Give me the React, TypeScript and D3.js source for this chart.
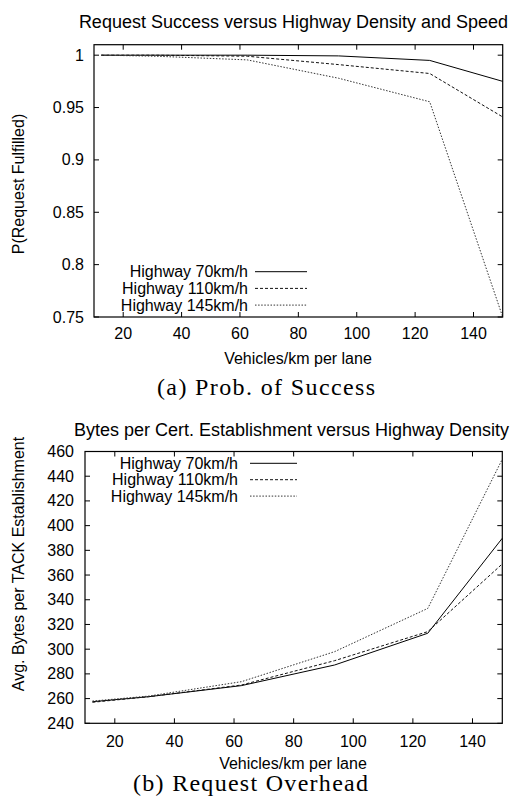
import React from "react";
import * as d3 from "d3";

const density = [12.5, 31.25, 62.5, 93.75, 125, 150];
const seriesNames = ["Highway 70km/h", "Highway 110km/h", "Highway 145km/h"];
const success70 = [1, 1, 1, 0.9993, 0.995, 0.975];
const success110 = [1, 1, 0.999, 0.991, 0.9825, 0.941];
const success145 = [1, 0.999, 0.9955, 0.978, 0.9555, 0.75];
const bytes70 = [257.5, 261.5, 270.5, 287.2, 312.9, 389.8];
const bytes110 = [257, 261.5, 271, 290.7, 314.2, 369];
const bytes145 = [258, 262, 273.7, 298, 333, 453.8];
const xTicks = [20, 40, 60, 80, 100, 120, 140];
const yTicksA = [0.75, 0.8, 0.85, 0.9, 0.95, 1];
const yTicksB = [240, 260, 280, 300, 320, 340, 360, 380, 400, 420, 440, 460];

const FONT = "'Liberation Sans', Arial, Helvetica, sans-serif";
const SERIF = "'Liberation Serif', 'DejaVu Serif', serif";
const dashes = [null, "3,2", "1.5,1.6"];
const colors = ["#000", "#111", "#333"];

type PanelProps = {
  left: number; top: number; right: number; bottom: number;
  yDomain: [number, number]; yTicks: number[]; yFmt: (v: number) => string;
  series: number[][]; title: string; titleX: number; titleY: number;
  yLabel: string; yLabelX: number; yLabelY: number;
  xLabelX: number; xLabelY: number; xTickY: number; yTickX: number;
  legendTextX: number; legendLineX0: number; legendLineX1: number; legendY0: number; legendDy: number;
};

function Panel(p: PanelProps) {
  const x = d3.scaleLinear().domain([10, 150]).range([p.left, p.right]);
  const y = d3.scaleLinear().domain(p.yDomain).range([p.bottom, p.top]);
  const line = d3.line<number>().x((_, i) => x(density[i])).y((v) => y(v));
  const tl = 5;
  return (
    <g fontFamily={FONT} fontSize={16} fill="#000">
      <text x={p.titleX} y={p.titleY} textAnchor="middle" dominantBaseline="central" fontSize={18}>{p.title}</text>
      {p.series.map((s, i) => (
        <path key={i} d={line(s) || ""} fill="none" stroke={colors[i]} strokeWidth={1}
          strokeDasharray={dashes[i] || undefined} />
      ))}
      {xTicks.map((t) => (
        <g key={"x" + t}>
          <line x1={x(t)} x2={x(t)} y1={p.bottom} y2={p.bottom - tl} stroke="#000" />
          <line x1={x(t)} x2={x(t)} y1={p.top} y2={p.top + tl} stroke="#000" />
          <text x={x(t)} y={p.xTickY} textAnchor="middle" dominantBaseline="central">{t}</text>
        </g>
      ))}
      {p.yTicks.map((t) => (
        <g key={"y" + t}>
          <line x1={p.left} x2={p.left + tl} y1={y(t)} y2={y(t)} stroke="#000" />
          <line x1={p.right} x2={p.right - tl} y1={y(t)} y2={y(t)} stroke="#000" />
          <text x={p.yTickX} y={y(t)} textAnchor="end" dominantBaseline="central">{p.yFmt(t)}</text>
        </g>
      ))}
      <rect x={p.left} y={p.top} width={p.right - p.left} height={p.bottom - p.top}
        fill="none" stroke="#000" strokeWidth={1.2} />
      <text x={p.xLabelX} y={p.xLabelY} textAnchor="middle" dominantBaseline="central">Vehicles/km per lane</text>
      <text transform={`translate(${p.yLabelX},${p.yLabelY}) rotate(-90)`} textAnchor="middle"
        dominantBaseline="central">{p.yLabel}</text>
      {seriesNames.map((n, i) => {
        const ly = p.legendY0 + i * p.legendDy;
        return (
          <g key={n}>
            <text x={p.legendTextX} y={ly} textAnchor="end" dominantBaseline="central">{n}</text>
            <line x1={p.legendLineX0} x2={p.legendLineX1} y1={ly} y2={ly} stroke={colors[i]}
              strokeDasharray={dashes[i] || undefined} />
          </g>
        );
      })}
    </g>
  );
}

export default function App() {
  return (
    <svg width={519} height={804} style={{ position: "absolute", left: 0, top: 0, background: "#fff" }}>
      <Panel left={94} top={44.7} right={502.7} bottom={317}
        yDomain={[0.75, 1.01]} yTicks={yTicksA} yFmt={(v) => String(v)}
        series={[success70, success110, success145]}
        title="Request Success versus Highway Density and Speed" titleX={293.5} titleY={21.5}
        yLabel="P(Request Fulfilled)" yLabelX={18} yLabelY={184}
        xLabelX={298} xLabelY={358} xTickY={333} yTickX={84}
        legendTextX={248} legendLineX0={255} legendLineX1={307} legendY0={271.7} legendDy={16.7} />
      <text x={266} y={387} textAnchor="middle" dominantBaseline="central" fontFamily={SERIF}
        fontSize={24} textLength={218} lengthAdjust="spacing">(a) Prob. of Success</text>
      <Panel left={85} top={451.5} right={502.3} bottom={723.3}
        yDomain={[240, 460]} yTicks={yTicksB} yFmt={(v) => String(v)}
        series={[bytes70, bytes110, bytes145]}
        title="Bytes per Cert. Establishment versus Highway Density" titleX={291.5} titleY={430}
        yLabel="Avg. Bytes per TACK Establishment" yLabelX={18} yLabelY={564}
        xLabelX={293} xLabelY={763} xTickY={741} yTickX={74}
        legendTextX={238} legendLineX0={250} legendLineX1={297} legendY0={463.3} legendDy={16.4} />
      <text x={250.5} y={783} textAnchor="middle" dominantBaseline="central" fontFamily={SERIF}
        fontSize={24} textLength={235} lengthAdjust="spacing">(b) Request Overhead</text>
    </svg>
  );
}
